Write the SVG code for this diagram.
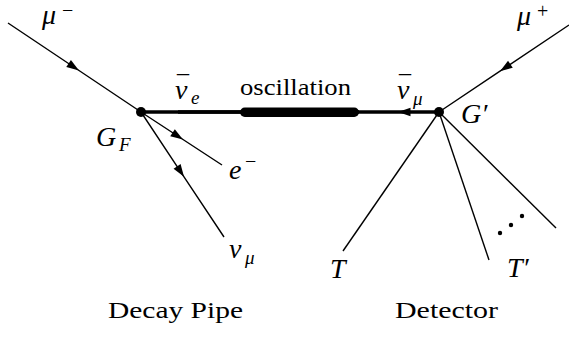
<svg xmlns="http://www.w3.org/2000/svg" width="569" height="337" viewBox="0 0 569 337">
<defs>
<marker id="a" markerUnits="userSpaceOnUse" markerWidth="16" markerHeight="12" viewBox="-14 -6 16 12" refX="0" refY="0" orient="auto">
<path d="M0,0 L-12.5,-4.2 L-12.5,4.2 Z" fill="#000"/>
</marker>
</defs>
<g id="connectors" stroke="#000" fill="none" stroke-width="1.4">
<path d="M8,23 L79,70.5 L141,112" marker-mid="url(#a)"/>
<path d="M141,112 L183,139.5 L222,165" marker-mid="url(#a)"/>
<path d="M141,112 L184,176.8 L224,237" marker-mid="url(#a)"/>
<path d="M569,25 L500,71.2 L439,112" marker-mid="url(#a)"/>
<path stroke-width="3.5" d="M439,112 L398,112 L141,112" marker-mid="url(#a)"/>
<path stroke-width="3.5" d="M359,112 L178,112" marker-mid="url(#a)"/>
<rect x="240" y="107.5" width="119" height="9.5" rx="4.75" fill="#000" stroke="none"/>
<path d="M439,112 L343,251"/>
<path d="M439,112 L489,260"/>
<path d="M439,112 L556,228"/>
</g>
<g font-family="Liberation Serif, Times New Roman, DejaVu Serif, serif" fill="#000">
<g id="GF">
<circle cx="141" cy="112" r="5"/>
<text font-style="italic" font-size="28" x="96" y="146">G</text><text font-style="italic" font-size="19" x="119" y="151">F</text>
</g>
<g id="Gp">
<circle cx="439" cy="112" r="5"/>
<text font-style="italic" font-size="28" x="461" y="123">G′</text>
</g>
<g id="mum"><text font-style="italic" font-size="28" x="42" y="24">μ</text><text font-size="20" x="62" y="17">−</text></g>
<g id="mup"><text font-style="italic" font-size="28" x="517" y="25">μ</text><text font-size="20" x="537" y="18">+</text></g>
<g id="nue"><text font-style="italic" font-size="28" x="175" y="99">ν</text><text font-size="24" x="177" y="92">¯</text><text font-style="italic" font-size="19" x="191" y="104">e</text></g>
<g id="osc"><text font-size="23" x="240" y="95" textLength="111" lengthAdjust="spacingAndGlyphs">oscillation</text></g>
<g id="num"><text font-style="italic" font-size="28" x="397" y="99">ν</text><text font-size="24" x="399" y="92">¯</text><text font-style="italic" font-size="19" x="413" y="105">μ</text></g>
<g id="em"><text font-style="italic" font-size="28" x="229" y="179">e</text><text font-size="20" x="245" y="168">−</text></g>
<g id="numu"><text font-style="italic" font-size="28" x="229" y="258">ν</text><text font-style="italic" font-size="19" x="245" y="264">μ</text></g>
<g id="T"><text font-style="italic" font-size="28" x="330" y="278">T</text></g>
<g id="Tp"><text font-style="italic" font-size="28" x="507" y="277">T′</text>
<circle cx="500" cy="233" r="2.2"/><circle cx="511" cy="225" r="2.2"/><circle cx="522" cy="216" r="2.2"/></g>
<g id="dp"><text font-size="23" x="108" y="318" textLength="135" lengthAdjust="spacingAndGlyphs">Decay Pipe</text></g>
<g id="det"><text font-size="23" x="395" y="318" textLength="103" lengthAdjust="spacingAndGlyphs">Detector</text></g>
</g>
</svg>
